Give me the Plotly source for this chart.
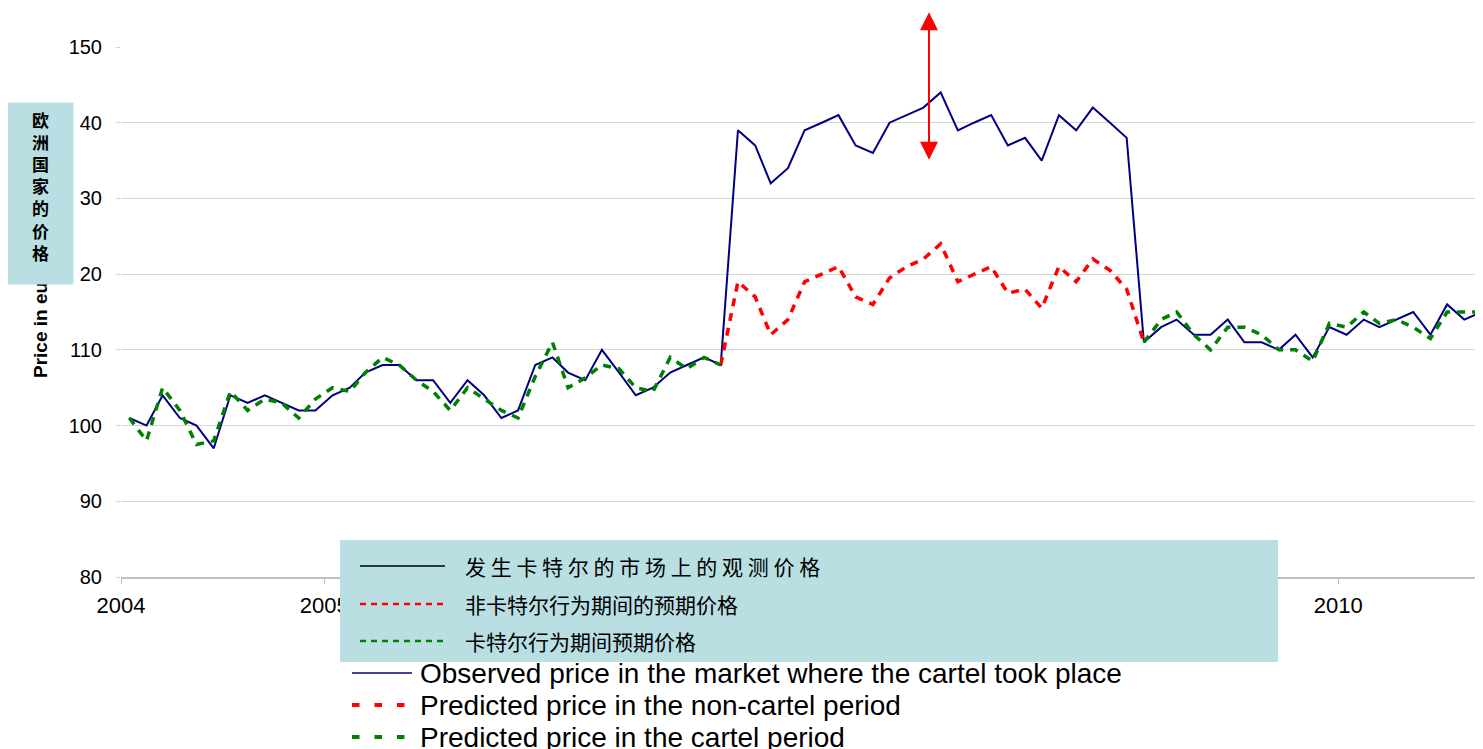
import pandas as pd
import plotly.graph_objects as go

# ---------------- data (monthly) ----------------
N_MONTHS = 82
START = "2004-01-01"

observed = [101, 100, 104, 101, 100, 97, 104, 103, 104, 103, 102, 102,
            104, 105, 107, 108, 108, 106, 106, 103, 106, 104, 101, 102,
            108, 109, 107, 106, 110, 107, 104, 105, 107, 108, 109, 108,
            139, 137, 132, 134, 139, 140, 141, 137, 136, 140, 141, 142,
            144, 139, 140, 141, 137, 138, 135, 141, 139, 142, 140, 138,
            111, 113, 114, 112, 112, 114, 111, 111, 110, 112, 109, 113,
            112, 114, 113, 114, 115, 112, 116, 114, 115, 116]

# predicted price (cartel model) before the cartel: months 0..35
pred_cartel_before = [101, 98, 105, 102, 97.5, 98, 104.5, 102, 103.5, 103, 101, 103.5,
                      105, 104.5, 107, 109, 108, 106, 104.5, 102, 105, 103.5, 102, 101,
                      106.5, 111, 105, 106.3, 108, 107.5, 105, 104.5, 109, 107.5, 109, 108]
# predicted price in the non-cartel scenario during the cartel: months 35..60
pred_noncartel = [108, 119, 117, 112, 114, 119, 120, 121, 117, 116, 119.5, 121,
                  122, 124, 119, 120, 121, 117.5, 118, 115.5, 121, 119, 122, 120.5,
                  118, 111]
# predicted price after the cartel: months 60..81
pred_cartel_after = [111, 114, 115, 112, 110, 113, 113, 112, 110, 110, 108.5, 113.5,
                     113, 115, 113.5, 114, 113, 111.5, 115, 115, 115, 115]

y_tickvals = [80, 90, 100, 110, 120, 130, 140, 150]
y_ticktext = ["80", "90", "100", "110", "20", "30", "40", "150"]
x_years = [2004, 2005, 2006, 2007, 2008, 2009, 2010]
# labels of 2006-2009 are hidden under the Chinese legend box in the reference
x_ticktext = ["2004", "2005", "", "", "", "", "2010"]

name_obs = "Observed price in the market where the cartel took place"
name_noncartel = "Predicted price in the non-cartel period"
name_cartel = "Predicted price in the cartel period"

cn_legend = ["发 生 卡 特 尔 的 市 场 上 的 观 测 价 格",
             "非卡特尔行为期间的预期价格",
             "卡特尔行为期间预期价格"]
cn_ytitle = "欧洲国家的价格"
y_title = "Price in euros"

ARROW_DATE = "2007-12-26"
ARROW_TOP = 154.6
ARROW_BOTTOM = 134.9

# ---------------- build series ----------------
months = pd.date_range(START, periods=N_MONTHS, freq="MS") + pd.Timedelta(days=15)
red_full = [None] * 35 + pred_noncartel + [None] * (N_MONTHS - 35 - len(pred_noncartel))
green_full = pred_cartel_before + [None] * (60 - len(pred_cartel_before)) + pred_cartel_after

# ---------------- layout helpers (page pixel -> paper) ----------------
BODY = 8  # default page margin of the html body
PL, PR, PT, PB = 121, 1483, 47, 577
def px(x):
    return (x - PL) / (PR - PL)
def py(y):
    return (PB - y) / (PB - PT)

TEAL = "rgb(185,223,227)"
FONT = "Liberation Sans, Arial, sans-serif"
CJK = "Noto Sans CJK SC, sans-serif"
DASH = "8px,7px"

BLUE = "#000080"
RED = "#ff0000"
GREEN = "#008000"

fig = go.Figure()
fig.add_trace(go.Scatter(x=months, y=observed, mode="lines", name=name_obs,
                         line=dict(color=BLUE, width=2), showlegend=False))
fig.add_trace(go.Scatter(x=months, y=red_full, mode="lines", name=name_noncartel,
                         line=dict(color=RED, width=3.5, dash=DASH), showlegend=False))
fig.add_trace(go.Scatter(x=months, y=green_full, mode="lines", name=name_cartel,
                         line=dict(color=GREEN, width=3.5, dash=DASH), showlegend=False))

x_end = pd.Timestamp("2004-01-01") + pd.Timedelta(days=6.715 * 365.25)

fig.update_layout(
    width=1483 - BODY, height=749 - BODY,
    margin=dict(l=PL - BODY, r=0, t=PT - BODY, b=749 - PB, autoexpand=False),
    paper_bgcolor="white", plot_bgcolor="white",
    font=dict(family=FONT, color="black"),
    showlegend=False,
    xaxis=dict(type="date", range=["2004-01-01", x_end],
               tickvals=[f"{y}-01-01" for y in x_years],
               ticktext=x_ticktext,
               showgrid=False, showline=True, linecolor="#c0c0c0", linewidth=1.5,
               ticks="outside", ticklen=5, tickcolor="#c0c0c0",
               tickfont=dict(size=22), ticklabelstandoff=3, zeroline=False),
    yaxis=dict(range=[80, 150], tickvals=y_tickvals, ticktext=y_ticktext,
               showgrid=True, gridcolor="#d6d6d6", gridwidth=1,
               showline=False, ticks="outside", ticklen=4, tickcolor="#d6d6d6",
               tickfont=dict(size=20), ticklabelstandoff=10, zeroline=False),
)

shapes = []
# Chinese legend box over the x axis
shapes.append(dict(type="rect", xref="paper", yref="paper", layer="above",
                   x0=px(340), x1=px(1278), y0=py(662), y1=py(540),
                   fillcolor=TEAL, line=dict(width=0)))
cn_rows = [566, 604, 641]
cn_styles = [dict(color="black", width=1.5),
             dict(color=RED, width=2.5, dash="6px,5px"),
             dict(color=GREEN, width=2.5, dash="6px,5px")]
for yy, st in zip(cn_rows, cn_styles):
    shapes.append(dict(type="line", xref="paper", yref="paper", layer="above",
                       x0=px(360), x1=px(445), y0=py(yy), y1=py(yy), line=st))
# English legend (below the Chinese box)
en_rows = [673, 705, 737]
en_names = [name_obs, name_noncartel, name_cartel]
en_styles = [dict(color=BLUE, width=1.5),
             dict(color=RED, width=4, dash="7.5px,15px"),
             dict(color=GREEN, width=4, dash="7.5px,15px")]
for yy, st in zip(en_rows, en_styles):
    shapes.append(dict(type="line", xref="paper", yref="paper", layer="above",
                       x0=px(352), x1=px(412), y0=py(yy), y1=py(yy), line=st))
fig.update_layout(shapes=shapes)

ann = []
# y title (partly hidden by the teal box drawn afterwards)
ann.append(dict(text="<b>" + y_title + "</b>", xref="paper", yref="paper",
                x=px(40), y=py(315), xanchor="center", yanchor="middle",
                textangle=-90, showarrow=False,
                font=dict(size=19, family=FONT, color="black")))
# teal box for the Chinese y title
ann.append(dict(text=" ", xref="paper", yref="paper", x=px(7), y=py(102),
                xanchor="left", yanchor="top", showarrow=False,
                width=65, height=181, bgcolor=TEAL, borderpad=0,
                font=dict(size=10)))
ann.append(dict(text="<b>" + "<br>".join(cn_ytitle) + "</b>", xref="paper", yref="paper",
                x=px(40), y=py(186), xanchor="center", yanchor="middle",
                showarrow=False, align="center",
                font=dict(size=17, family=CJK, color="black")))
for yy, txt in zip(cn_rows, cn_legend):
    ann.append(dict(text=txt, xref="paper", yref="paper", x=px(463), y=py(yy),
                    xanchor="left", yanchor="middle", showarrow=False,
                    font=dict(size=21, family=CJK, color="black")))
for yy, txt in zip(en_rows, en_names):
    ann.append(dict(text=txt, xref="paper", yref="paper", x=px(418), y=py(yy),
                    xanchor="left", yanchor="middle", showarrow=False,
                    font=dict(size=28, family=FONT, color="black")))
# double-headed red arrow
ann.append(dict(text="", x=ARROW_DATE, y=ARROW_TOP, xref="x", yref="y",
                ax=ARROW_DATE, ay=ARROW_BOTTOM, axref="x", ayref="y",
                showarrow=True, arrowside="end+start", arrowhead=2, startarrowhead=2,
                arrowsize=1.8, startarrowsize=1.8, arrowwidth=2, arrowcolor=RED,
                standoff=0, startstandoff=0))
fig.update_layout(annotations=ann)

fig.write_html("out.html")
